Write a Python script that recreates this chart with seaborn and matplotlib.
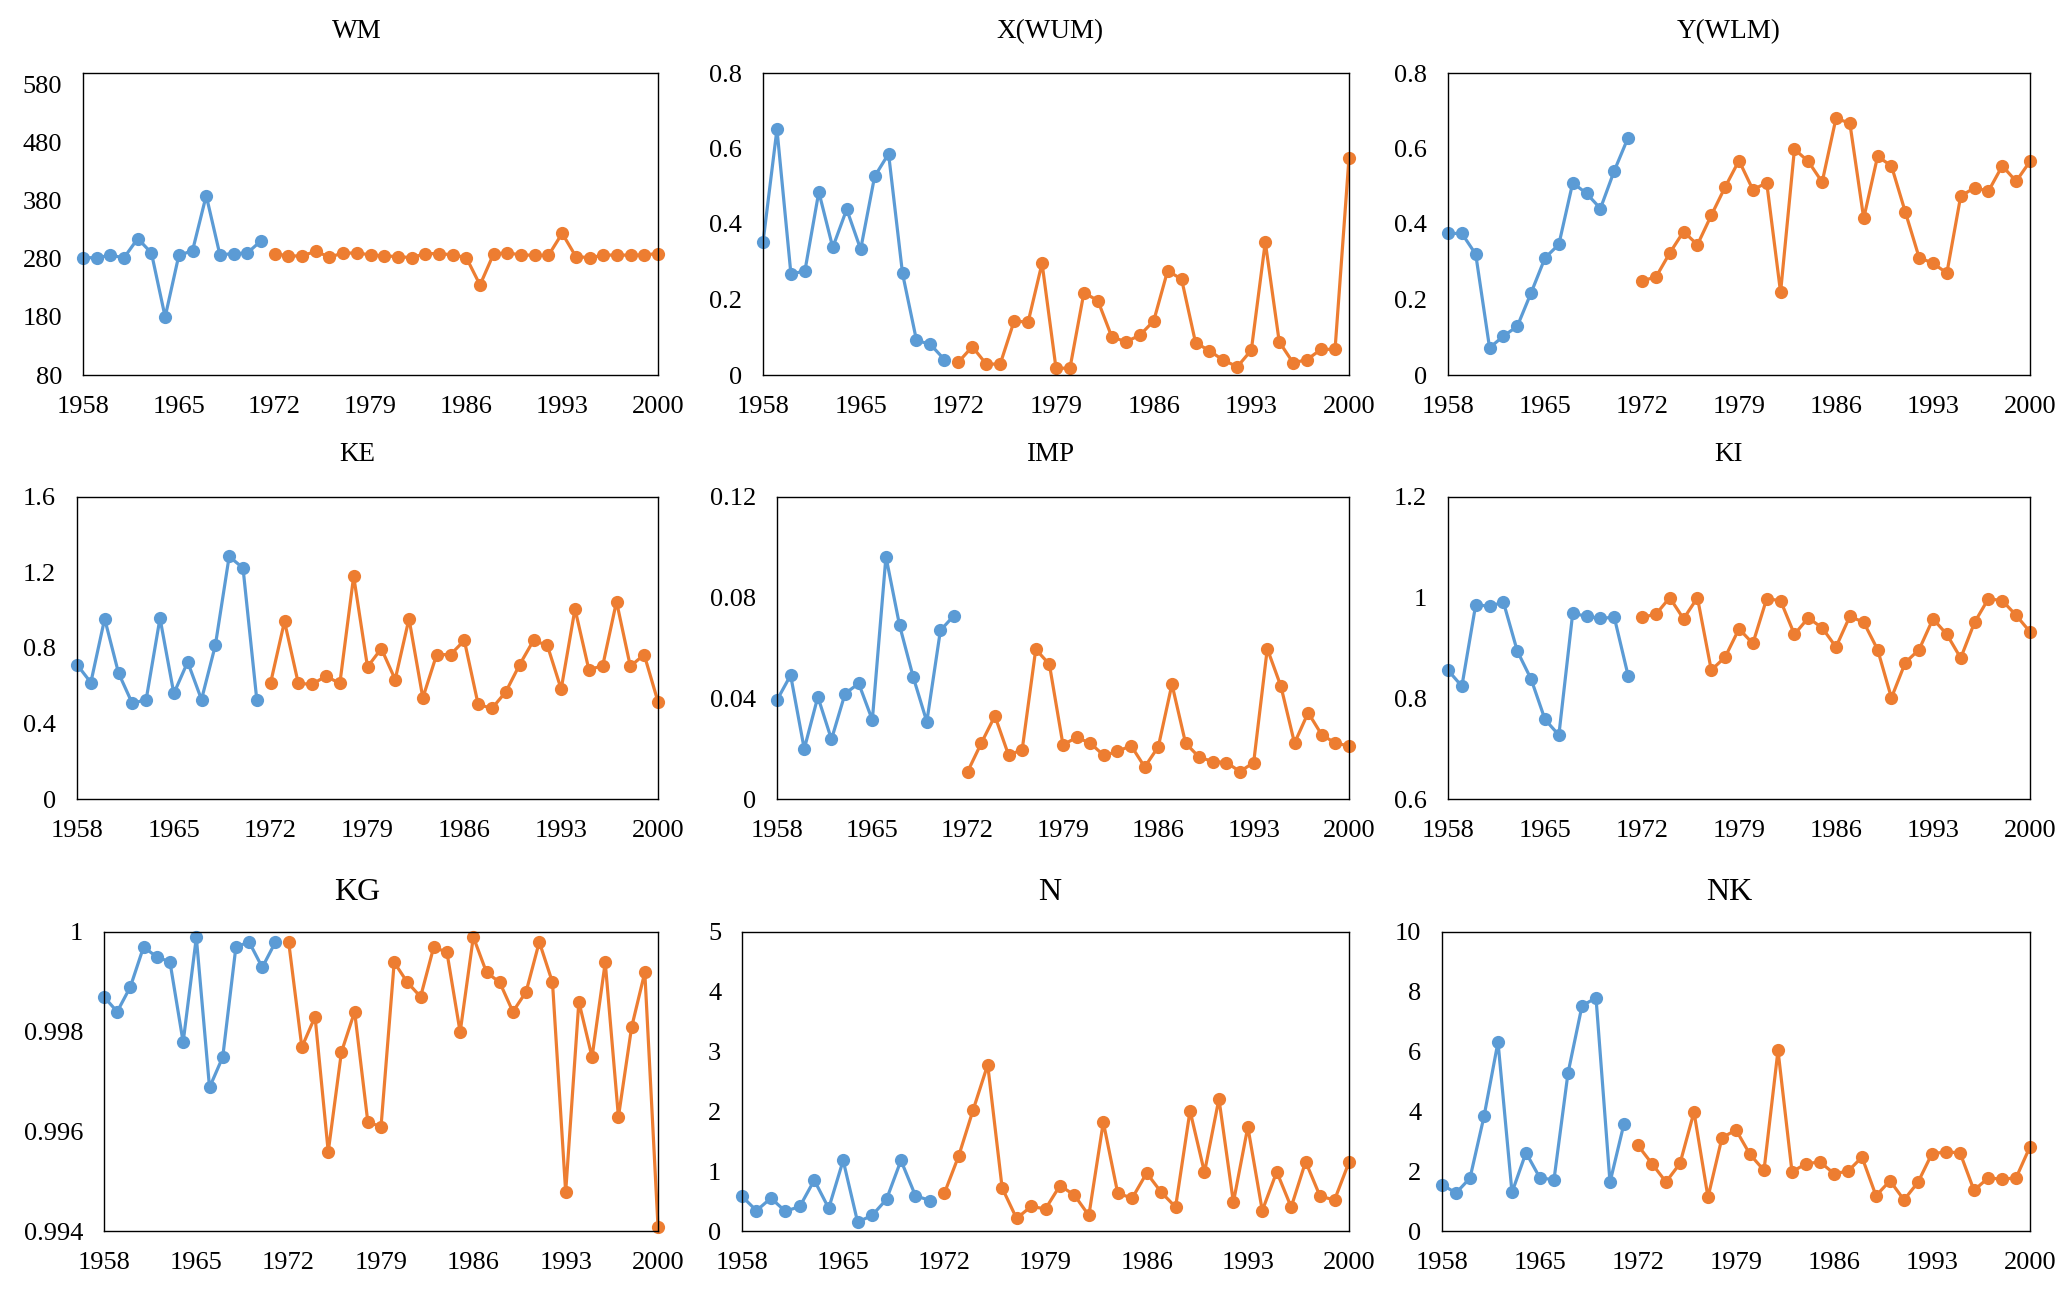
import pandas as pd
import seaborn as sns
import matplotlib.pyplot as plt
from matplotlib.ticker import FuncFormatter

# --- data: blue = 1958-1971, orange = 1972-2000 ---
years_a = list(range(1958, 1972))
years_b = list(range(1972, 2001))
year_ticks = [1958, 1965, 1972, 1979, 1986, 1993, 2000]

wm_a = [282, 282, 286, 282, 315, 290, 180, 286, 294, 389, 287, 289, 290, 311]
wm_b = [289, 285, 285, 293, 283, 290, 290, 287, 285, 284, 282, 289, 289, 287, 282,
        235, 289, 290, 287, 286, 286, 324, 284, 282, 286, 287, 286, 287, 289]

x_a = [0.351, 0.651, 0.268, 0.275, 0.485, 0.338, 0.439, 0.333, 0.526, 0.586, 0.269, 0.092, 0.081, 0.041]
x_b = [0.034, 0.075, 0.029, 0.029, 0.143, 0.140, 0.296, 0.018, 0.018, 0.218, 0.197, 0.101, 0.088, 0.105, 0.143,
       0.276, 0.254, 0.086, 0.064, 0.039, 0.022, 0.066, 0.352, 0.088, 0.032, 0.041, 0.068, 0.068, 0.575]

y_a = [0.375, 0.375, 0.320, 0.072, 0.103, 0.129, 0.218, 0.310, 0.346, 0.509, 0.481, 0.441, 0.541, 0.629]
y_b = [0.250, 0.259, 0.323, 0.380, 0.345, 0.423, 0.498, 0.568, 0.491, 0.509, 0.219, 0.598, 0.566, 0.511, 0.680,
       0.667, 0.415, 0.579, 0.554, 0.432, 0.311, 0.296, 0.270, 0.474, 0.496, 0.487, 0.554, 0.513, 0.566]

ke_a = [0.712, 0.617, 0.955, 0.668, 0.506, 0.527, 0.958, 0.559, 0.726, 0.527, 0.814, 1.285, 1.224, 0.524]
ke_b = [0.617, 0.941, 0.612, 0.608, 0.651, 0.612, 1.180, 0.700, 0.797, 0.633, 0.955, 0.536, 0.765, 0.765, 0.840,
        0.501, 0.480, 0.568, 0.712, 0.840, 0.814, 0.582, 1.007, 0.686, 0.705, 1.046, 0.703, 0.765, 0.515]

imp_a = [0.0393, 0.0492, 0.0199, 0.0406, 0.0237, 0.0419, 0.0459, 0.0314, 0.0963, 0.0690, 0.0485, 0.0307, 0.0670, 0.0729]
imp_b = [0.0109, 0.0222, 0.0330, 0.0175, 0.0195, 0.0595, 0.0535, 0.0215, 0.0245, 0.0222, 0.0173, 0.0189, 0.0212,
         0.0127, 0.0208, 0.0456, 0.0222, 0.0166, 0.0149, 0.0145, 0.0109, 0.0145, 0.0597, 0.0448, 0.0222, 0.0343,
         0.0255, 0.0222, 0.0211]

ki_a = [0.856, 0.824, 0.986, 0.983, 0.991, 0.894, 0.838, 0.758, 0.727, 0.969, 0.963, 0.959, 0.961, 0.845]
ki_b = [0.961, 0.967, 1.000, 0.958, 1.000, 0.856, 0.882, 0.938, 0.909, 0.998, 0.994, 0.927, 0.960, 0.940, 0.902,
        0.963, 0.951, 0.897, 0.801, 0.871, 0.897, 0.958, 0.927, 0.880, 0.951, 0.998, 0.994, 0.965, 0.932]

kg_a = [0.99870, 0.99840, 0.99890, 0.99970, 0.99950, 0.99940, 0.99779, 0.99989, 0.99688, 0.99749, 0.99970,
        0.99980, 0.99929, 0.99980]
kg_b = [0.99980, 0.99769, 0.99830, 0.99559, 0.99759, 0.99840, 0.99619, 0.99609, 0.99939, 0.99899, 0.99870,
        0.99970, 0.99959, 0.99799, 0.99990, 0.99919, 0.99899, 0.99840, 0.99880, 0.99980, 0.99899, 0.99478,
        0.99860, 0.99749, 0.99939, 0.99629, 0.99809, 0.99919, 0.99409]

n_a = [0.58, 0.34, 0.55, 0.33, 0.41, 0.85, 0.38, 1.18, 0.15, 0.26, 0.53, 1.18, 0.59, 0.51]
n_b = [0.63, 1.26, 2.03, 2.78, 0.72, 0.21, 0.41, 0.37, 0.76, 0.60, 0.26, 1.82, 0.63, 0.55, 0.97,
       0.65, 0.40, 2.01, 0.98, 2.21, 0.48, 1.74, 0.34, 0.99, 0.40, 1.16, 0.58, 0.52, 1.15]

nk_a = [1.55, 1.27, 1.77, 3.83, 6.32, 1.29, 2.62, 1.77, 1.72, 5.28, 7.53, 7.80, 1.63, 3.59]
nk_b = [2.86, 2.25, 1.64, 2.26, 3.98, 1.13, 3.12, 3.38, 2.56, 2.03, 6.04, 1.98, 2.25, 2.31, 1.92,
        2.00, 2.47, 1.18, 1.68, 1.04, 1.63, 2.59, 2.64, 2.62, 1.36, 1.77, 1.74, 1.77, 2.82]

titles = ['WM', 'X(WUM)', 'Y(WLM)', 'KE', 'IMP', 'KI', 'KG', 'N', 'NK']
series = [(wm_a, wm_b), (x_a, x_b), (y_a, y_b), (ke_a, ke_b), (imp_a, imp_b),
          (ki_a, ki_b), (kg_a, kg_b), (n_a, n_b), (nk_a, nk_b)]
y_ticks = [[80, 180, 280, 380, 480, 580], [0, 0.2, 0.4, 0.6, 0.8], [0, 0.2, 0.4, 0.6, 0.8],
           [0, 0.4, 0.8, 1.2, 1.6], [0, 0.04, 0.08, 0.12], [0.6, 0.8, 1, 1.2],
           [0.994, 0.996, 0.998, 1], [0, 1, 2, 3, 4, 5], [0, 2, 4, 6, 8, 10]]
y_lims = [(80, 600), (0, 0.8), (0, 0.8), (0, 1.6), (0, 0.12), (0.6, 1.2),
          (0.994, 1.0), (0, 5), (0, 10)]

# --- layout (pixels of the 2067x1291 canvas) ---
W, H = 2067, 1291
col_right = [658, 1349, 2030]
col_title_x = [357, 1050, 1729]
panel_left = [83, 763, 1448, 77, 777, 1448, 104, 742, 1442]
row_top = [73, 497, 932]
row_bottom = [375, 799, 1231]
title_base = [38, 461, 900]
title_size = [19.5, 19.5, 23]

BLUE = '#5B9BD5'
ORANGE = '#ED7D31'

sns.set_theme(style='white')
plt.rcParams['font.family'] = ['Liberation Serif', 'DejaVu Serif']

fig = plt.figure(figsize=(W / 100, H / 100), dpi=100)

for i, name in enumerate(titles):
    r, c = divmod(i, 3)
    left = panel_left[i]
    rect = [left / W, 1 - row_bottom[r] / H, (col_right[c] - left) / W, (row_bottom[r] - row_top[r]) / H]
    ax = fig.add_axes(rect)
    a_vals, b_vals = series[i]
    df_a = pd.DataFrame({'year': years_a, 'value': a_vals})
    df_b = pd.DataFrame({'year': years_b, 'value': b_vals})
    for df, col in [(df_a, BLUE), (df_b, ORANGE)]:
        sns.lineplot(data=df, x='year', y='value', ax=ax, color=col, linewidth=2.3,
                     marker='o', markersize=9.5, markeredgewidth=0, clip_on=False)
    ax.set_xlim(1958, 2000)
    ax.set_ylim(*y_lims[i])
    ax.set_xticks(year_ticks)
    ax.set_yticks(y_ticks[i])
    ax.yaxis.set_major_formatter(FuncFormatter(lambda v, p: f'{v:g}'))
    ax.set_xlabel('')
    ax.set_ylabel('')
    ax.tick_params(axis='x', length=0, pad=15, labelsize=19, colors='black')
    ax.tick_params(axis='y', length=0, pad=15, labelsize=19, colors='black')
    for s in ax.spines.values():
        s.set_visible(True)
        s.set_color('black')
        s.set_linewidth(1.0)
    fig.text(col_title_x[c] / W, 1 - title_base[r] / H, name, ha='center', va='baseline',
             fontsize=title_size[r], color='black')

fig.savefig('out.png', dpi=100, facecolor='white')
